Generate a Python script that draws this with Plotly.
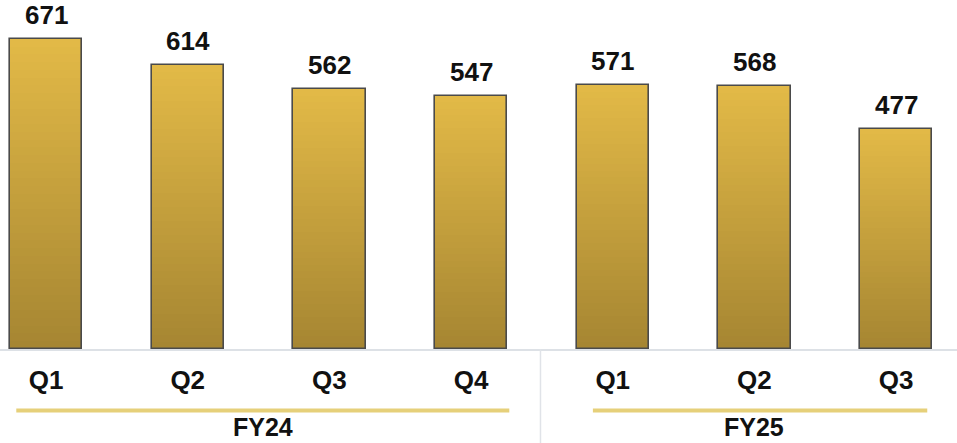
import plotly.graph_objects as go

quarters = ["Q1", "Q2", "Q3", "Q4", "Q1", "Q2", "Q3"]
values = [671, 614, 562, 547, 571, 568, 477]
years = ["FY24", "FY25"]
year_spans = [(0, 3), (4, 6)]

top_rgb = (226, 185, 71)
bot_rgb = (166, 134, 50)
x = list(range(len(values)))
bar_w = 0.51
FONT = "Liberation Sans, Arial"

fig = go.Figure()
n = 40
for i in range(n):
    k = 1 - i / n
    t = i / (n - 1)
    c = tuple(round(top_rgb[j] + (bot_rgb[j] - top_rgb[j]) * t) for j in range(3))
    fig.add_trace(go.Bar(x=x, y=[v * k for v in values], width=bar_w,
                         marker=dict(color="rgb(%d,%d,%d)" % c, line=dict(width=0)),
                         hoverinfo="skip", showlegend=False))
fig.add_trace(go.Bar(x=x, y=values, width=bar_w,
                     marker=dict(color="rgba(0,0,0,0)", line=dict(color="#4a4a4a", width=1.6)),
                     showlegend=False))

for xi, v in zip(x, values):
    fig.add_annotation(x=xi, y=v, text="<b>%d</b>" % v, showarrow=False,
                       yanchor="bottom", yshift=7,
                       font=dict(family=FONT, size=26, color="#111"))

# Year underlines and labels
underline = [(-0.21, 3.27), (3.86, 6.22)]
label_x = [1.53, 5.0]
for (x0, x1), lx, yr in zip(underline, label_x, years):
    fig.add_shape(type="line", xref="x", yref="paper",
                  x0=x0, x1=x1, y0=-0.176, y1=-0.176, line=dict(color="#E6D07A", width=4))
    fig.add_annotation(x=lx, y=-0.223, xref="x", yref="paper",
                       text="<b>%s</b>" % yr, showarrow=False, yanchor="middle",
                       font=dict(family=FONT, size=25, color="#111"))

# separator
fig.add_shape(type="line", xref="x", yref="paper", x0=3.49, x1=3.49, y0=0, y1=-0.3,
              line=dict(color="#E0E3E8", width=1.5))

fig.update_layout(
    width=957, height=443, barmode="overlay", bargap=0,
    margin=dict(l=0, r=0, t=0, b=94),
    plot_bgcolor="white", paper_bgcolor="white",
    xaxis=dict(range=[-0.325, 6.43], tickvals=x, ticktext=["<b>%s</b>" % q for q in quarters],
               tickfont=dict(family=FONT, size=26, color="#111"),
               showgrid=False, zeroline=False, showline=True, linecolor="#DDE1E6", linewidth=2,
               ticks="outside", ticklen=7, tickcolor="rgba(0,0,0,0)"),
    yaxis=dict(range=[0, 755], visible=False, showgrid=False, zeroline=False),
)

fig.write_html("out.html")
